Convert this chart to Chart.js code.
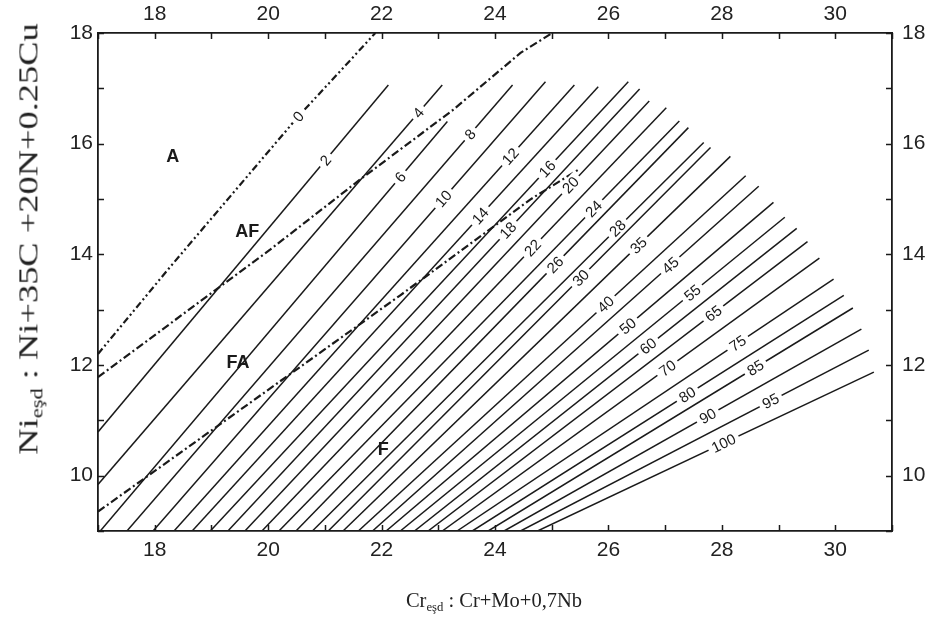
<!DOCTYPE html>
<html>
<head>
<meta charset="utf-8">
<script src="https://cdn.jsdelivr.net/npm/chart.js@4.4.1/dist/chart.umd.min.js"></script>
<style>
  html, body { margin: 0; padding: 0; background: #fff; }
  #wrap { position: relative; width: 930px; height: 619px; }
  #chart { position: absolute; left: 0; top: 0; }
  .ttl { position: absolute; font-family: 'Liberation Serif', 'Times New Roman', serif; color: #222; white-space: nowrap; line-height: 1; }
  .ttl sub { font-size: 62%; vertical-align: -0.28em; }
  #xTitle { left: 494px; top: 602px; font-size: 20.5px; transform: translate(-50%, -50%); }
  #yTitle { left: 30px; top: 239px; font-size: 28px; transform: translate(-50%, -50%) rotate(-90deg) scaleX(1.3); }
</style>
</head>
<body>
<div id="wrap">
  <canvas id="chart" width="930" height="619"></canvas>
  <div class="ttl" id="xTitle">Cr<sub>eşd</sub> : Cr+Mo+0,7Nb</div>
  <div class="ttl" id="yTitle">Ni<sub>eşd</sub> : Ni+35C +20N+0.25Cu</div>
</div>
<script>
// ── Data ─────────────────────────────────────────────────────
// iso-ferrite lines (FN), each a straight segment start -> end
const fnLevels = ['2', '4', '6', '8', '10', '12', '14', '16', '18', '20', '22', '24', '26', '28', '30',
                  '35', '40', '45', '50', '55', '60', '65', '70', '75', '80', '85', '90', '95', '100'];
const startX = [17.00, 17.00, 17.04, 17.51, 17.97, 18.34, 18.66, 18.98, 19.29, 19.59, 19.89, 20.19, 20.49, 20.78, 21.06,
                21.32, 21.59, 21.84, 22.08, 22.33, 22.58, 22.82, 23.07, 23.33, 23.60, 23.88, 24.16, 24.45, 24.75];
const startY = [10.79, 9.84, 9, 9, 9, 9, 9, 9, 9, 9, 9, 9, 9, 9, 9,
                9, 9, 9, 9, 9, 9, 9, 9, 9, 9, 9, 9, 9, 9];
const endX   = [22.12, 23.07, 23.16, 24.31, 24.89, 25.40, 25.82, 26.35, 26.55, 26.72, 27.02, 27.25, 27.41, 27.68, 27.80,
                28.15, 28.42, 28.65, 28.91, 29.11, 29.32, 29.51, 29.72, 29.97, 30.15, 30.31, 30.46, 30.59, 30.68];
const endY   = [17.06, 17.06, 16.40, 17.06, 17.12, 17.06, 17.03, 17.12, 16.99, 16.77, 16.65, 16.41, 16.29, 16.02, 15.93,
                15.77, 15.42, 15.23, 14.94, 14.67, 14.47, 14.23, 13.93, 13.55, 13.26, 13.03, 12.65, 12.27, 11.87];
const labelX = [21.01, 22.65, 22.33, 23.56, 23.09, 24.27, 23.74, 24.92, 24.23, 25.33, 24.66, 25.74, 25.06, 26.16, 25.51,
                26.53, 25.95, 27.09, 26.34, 27.48, 26.70, 27.85, 27.04, 28.28, 27.39, 28.59, 27.75, 28.86, 28.03];

// phase boundaries (dash-dot)
const aAfX = [17.00, 18.27, 20.53, 21.45, 21.89];
const aAfY = [12.20, 13.77, 16.49, 17.51, 18.00];
const afFaX = [17.00, 20.04, 21.62, 23.26, 24.45, 25.01];
const afFaY = [11.78, 14.09, 15.35, 16.61, 17.64, 18.00];
const faFX = [17.00, 22.33, 24.62, 25.47];
const faFY = [9.35, 13.26, 14.99, 15.53];

// region names
const regionNames = ['A', 'AF', 'FA', 'F'];
const regionX = [18.32, 19.63, 19.47, 22.03];
const regionY = [15.75, 14.41, 12.04, 10.46];

// ── Helpers ──────────────────────────────────────────────────
const INK = '#1a1a1a';
const SANS = "'Liberation Sans', Arial, Helvetica, sans-serif";
const pts = (xs, ys) => xs.map((x, i) => ({ x, y: ys[i] }));

const datasets = fnLevels.map((lv, i) => ({
  label: 'FN ' + lv,
  data: [{ x: startX[i], y: startY[i] }, { x: endX[i], y: endY[i] }],
  labelText: lv,
  labelAt: labelX[i],
}));
datasets.push({ label: 'A/AF', data: pts(aAfX, aAfY), borderDash: [7, 3, 2, 3, 2, 3], borderWidth: 2.2, labelText: '0', labelAt: 20.53 });
datasets.push({ label: 'AF/FA', data: pts(afFaX, afFaY), borderDash: [8, 3, 2, 3], borderWidth: 2.2 });
datasets.push({ label: 'FA/F', data: pts(faFX, faFY), borderDash: [8, 3, 2, 3], borderWidth: 2.2 });

datasets.forEach((d) => {
  d.showLine = true;
  d.pointRadius = 0;
  d.borderColor = INK;
  d.borderWidth = d.borderWidth || 1.5;
  d.tension = 0;
});

// ── Plugins ──────────────────────────────────────────────────
// inward tick marks on all four sides
const innerTicks = {
  id: 'innerTicks',
  afterDraw(chart) {
    const { ctx, chartArea: a, scales } = chart;
    ctx.save();
    ctx.strokeStyle = INK;
    ctx.lineWidth = 1.5;
    ctx.beginPath();
    scales.x.ticks.forEach((t) => {
      const px = Math.round(scales.x.getPixelForValue(t.value)) + 0.5;
      ctx.moveTo(px, a.bottom); ctx.lineTo(px, a.bottom - 6);
      ctx.moveTo(px, a.top); ctx.lineTo(px, a.top + 6);
    });
    scales.y.ticks.forEach((t) => {
      const py = Math.round(scales.y.getPixelForValue(t.value)) + 0.5;
      ctx.moveTo(a.left, py); ctx.lineTo(a.left + 6, py);
      ctx.moveTo(a.right, py); ctx.lineTo(a.right - 6, py);
    });
    ctx.stroke();
    ctx.restore();
  },
};

// inline line labels + region names
const lineLabels = {
  id: 'lineLabels',
  afterDatasetsDraw(chart) {
    const { ctx, scales } = chart;
    const sx = scales.x, sy = scales.y;
    ctx.save();
    ctx.textAlign = 'center';
    ctx.textBaseline = 'middle';
    chart.data.datasets.forEach((d) => {
      if (!d.labelText) return;
      const p = d.data;
      let k = 0;
      while (k < p.length - 2 && p[k + 1].x < d.labelAt) k++;
      const a = p[k], b = p[k + 1];
      const t = (d.labelAt - a.x) / (b.x - a.x);
      const ly = a.y + t * (b.y - a.y);
      const px = sx.getPixelForValue(d.labelAt), py = sy.getPixelForValue(ly);
      const ang = Math.atan2(sy.getPixelForValue(b.y) - sy.getPixelForValue(a.y),
                             sx.getPixelForValue(b.x) - sx.getPixelForValue(a.x));
      ctx.font = '15px ' + SANS;
      const w = ctx.measureText(d.labelText).width;
      ctx.save();
      ctx.translate(px, py);
      ctx.rotate(ang);
      ctx.fillStyle = '#fff';
      ctx.fillRect(-w / 2 - 4, -7, w + 8, 14);
      ctx.fillStyle = INK;
      ctx.fillText(d.labelText, 0, 1);
      ctx.restore();
    });
    ctx.font = 'bold 18px ' + SANS;
    ctx.fillStyle = INK;
    regionNames.forEach((n, i) => {
      ctx.fillText(n, sx.getPixelForValue(regionX[i]), sy.getPixelForValue(regionY[i]));
    });
    ctx.restore();
  },
};

// ── Axes ─────────────────────────────────────────────────────
const tickFont = { family: SANS, size: 21 };
const evenOnly = (v) => (v % 2 === 0 ? v : '');
const axis = (pos, min, max, pad, size) => ({
  type: 'linear',
  position: pos,
  min,
  max,
  ticks: { stepSize: 1, autoSkip: false, padding: pad, color: '#222', font: tickFont, callback: evenOnly, maxRotation: 0 },
  grid: { display: false, drawTicks: false },
  border: { display: true, color: INK, width: 1.8 },
  afterFit: (s) => {
    if (pos === 'top' || pos === 'bottom') s.height = size;
    else s.width = size;
  },
});

new Chart(document.getElementById('chart'), {
  type: 'scatter',
  data: { datasets },
  options: {
    responsive: false,
    animation: false,
    events: [],
    layout: { padding: 0 },
    plugins: { legend: { display: false }, tooltip: { enabled: false } },
    scales: {
      x: axis('bottom', 17, 31, 7, 88),
      x2: axis('top', 17, 31, 6, 33),
      y: axis('left', 9, 18, 5, 98),
      y2: axis('right', 9, 18, 10, 38),
    },
  },
  plugins: [innerTicks, lineLabels],
});
</script>
</body>
</html>
